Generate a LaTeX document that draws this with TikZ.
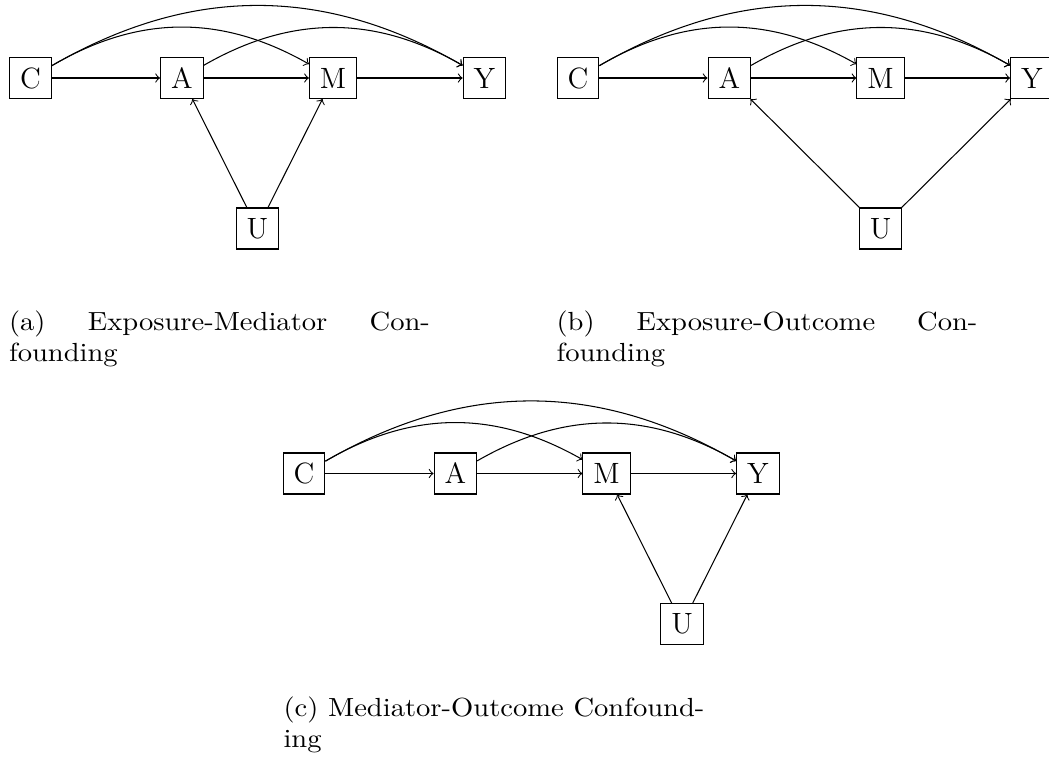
\documentclass[tikz,border=0pt]{standalone}
\usepackage{graphicx}
\begin{document}
\begin{tikzpicture}[x=0.3817pt,y=0.3817pt,
  var/.style={draw, rectangle, font=\fontsize{11.2}{13}\selectfont, inner xsep=4pt, minimum height=15.65pt, line width=0.4pt},
  arr/.style={->, line width=0.4pt},
  subcap/.style={anchor=base west, inner sep=0pt}]
\useasboundingbox (0,0) rectangle (1049,-768);

% ---------- (a) Exposure-Mediator Confounding ----------
\node[var] (aC) at (30.5,-78) {C};
\node[var] (aA) at (181.8,-78) {A};
\node[var] (aM) at (333.1,-78) {M};
\node[var] (aY) at (484.4,-78) {Y};
\node[var] (aU) at (257.4,-228.5) {U};
\draw[arr] (aC) -- (aA);
\draw[arr] (aA) -- (aM);
\draw[arr] (aM) -- (aY);
\draw[arr] (aC) to[bend left=30] (aM);
\draw[arr] (aC) to[bend left=30] (aY);
\draw[arr] (aA) to[bend left=30] (aY);
\draw[arr] (aU) -- (aA);
\draw[arr] (aU) -- (aM);
\node[subcap] (capa) at (8.5,-330) {\scalebox{1.09}[1]{\parbox[t]{147.4pt}{\fontsize{10}{12}\selectfont (a) Exposure-Mediator Con-\linebreak founding}}};

% ---------- (b) Exposure-Outcome Confounding ----------
\node[var] (bC) at (578,-78) {C};
\node[var] (bA) at (729.3,-78) {A};
\node[var] (bM) at (880.6,-78) {M};
\node[var] (bY) at (1031.9,-78) {Y};
\node[var] (bU) at (880.6,-228.5) {U};
\draw[arr] (bC) -- (bA);
\draw[arr] (bA) -- (bM);
\draw[arr] (bM) -- (bY);
\draw[arr] (bC) to[bend left=30] (bM);
\draw[arr] (bC) to[bend left=30] (bY);
\draw[arr] (bA) to[bend left=30] (bY);
\draw[arr] (bU) -- (bA);
\draw[arr] (bU) -- (bY);
\node[subcap] (capb) at (556,-330) {\scalebox{1.09}[1]{\parbox[t]{147.4pt}{\fontsize{10}{12}\selectfont (b) Exposure-Outcome Con-\linebreak founding}}};

% ---------- (c) Mediator-Outcome Confounding ----------
\node[var] (cC) at (304,-473.5) {C};
\node[var] (cA) at (455.3,-473.5) {A};
\node[var] (cM) at (606.6,-473.5) {M};
\node[var] (cY) at (757.9,-473.5) {Y};
\node[var] (cU) at (682.2,-624) {U};
\draw[arr] (cC) -- (cA);
\draw[arr] (cA) -- (cM);
\draw[arr] (cM) -- (cY);
\draw[arr] (cC) to[bend left=30] (cM);
\draw[arr] (cC) to[bend left=30] (cY);
\draw[arr] (cA) to[bend left=30] (cY);
\draw[arr] (cU) -- (cM);
\draw[arr] (cU) -- (cY);
\node[subcap] (capc) at (283,-716) {\scalebox{1.09}[1]{\parbox[t]{147.4pt}{\fontsize{10}{12}\selectfont (c) Mediator-Outcome Confound-\linebreak ing}}};
\end{tikzpicture}
\end{document}
